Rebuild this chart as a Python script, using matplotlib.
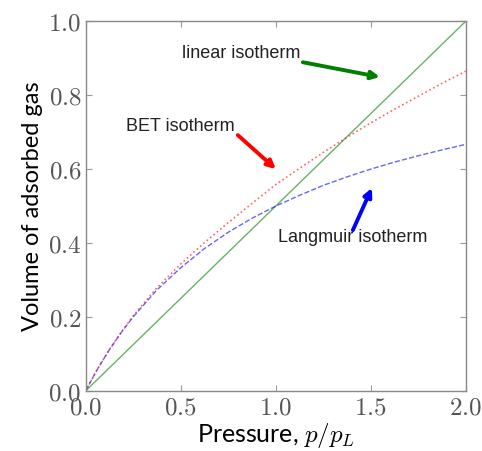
import matplotlib
matplotlib.use("Agg")
import matplotlib.pyplot as plt

# ----------------------------- data -----------------------------
pressure = [0.0, 0.0625, 0.125, 0.1875, 0.25, 0.375, 0.5, 0.625, 0.75, 0.875, 1.0,
            1.125, 1.25, 1.375, 1.5, 1.625, 1.75, 1.875, 2.0]
linear = [0.0, 0.03125, 0.0625, 0.09375, 0.125, 0.1875, 0.25, 0.3125, 0.375, 0.4375, 0.5,
          0.5625, 0.625, 0.6875, 0.75, 0.8125, 0.875, 0.9375, 1.0]
langmuir = [0.0, 0.059, 0.111, 0.158, 0.2, 0.273, 0.333, 0.385, 0.429, 0.467, 0.5,
            0.529, 0.556, 0.579, 0.6, 0.619, 0.636, 0.652, 0.667]
bet = [0.0, 0.059, 0.112, 0.159, 0.203, 0.279, 0.343, 0.401, 0.455, 0.507, 0.558,
       0.602, 0.645, 0.686, 0.725, 0.762, 0.797, 0.832, 0.865]

xticks = [0.0, 0.5, 1.0, 1.5, 2.0]
yticks = [0.0, 0.2, 0.4, 0.6, 0.8, 1.0]

plt.rcParams['mathtext.fontset'] = 'cm'

fig = plt.figure(figsize=(4.82, 4.51), dpi=100)
ax = fig.add_axes([0.1774, 0.133, 0.789, 0.820])

ax.plot(pressure, linear, '-', color='green', lw=1.0, alpha=0.6)
ax.plot(pressure, langmuir, '--', color='blue', lw=1.0, alpha=0.6)
ax.plot(pressure, bet, ':', color='red', lw=1.2, alpha=0.6)

ax.set_xlim(0, 2)
ax.set_ylim(0, 1)
ax.set_xticks(xticks)
ax.set_yticks(yticks)
ax.set_xticklabels([f"${t:.1f}$" for t in xticks])
ax.set_yticklabels([f"${t:.1f}$" for t in yticks])
ax.tick_params(direction='in', top=True, right=True, length=4, width=0.8,
               color='#999999', labelcolor='#555555', labelsize=18, pad=3)
for s in ax.spines.values():
    s.set_color('#888888')
    s.set_linewidth(1.0)

ax.set_xlabel(r"Pressure, $p/p_L$", fontsize=18, family='Lato', labelpad=1)
ax.set_ylabel("Volume of adsorbed gas", fontsize=17, family='Lato', labelpad=4)

# annotations
txt = dict(fontsize=13, family='Liberation Sans', color='#222222',
           ha='center', va='center')
ax.text(0.817, 0.914, "linear isotherm", **txt)
ax.text(0.497, 0.714, "BET isotherm", **txt)
ax.text(1.403, 0.414, "Langmuir isotherm", **txt)

arrows = [((1.548, 0.849), (1.143, 0.889), 'green'),
          ((1.001, 0.600), (0.801, 0.692), 'red'),
          ((1.506, 0.549), (1.406, 0.435), 'blue')]
for head, tail, c in arrows:
    ax.annotate('', xy=head, xytext=tail,
                arrowprops=dict(arrowstyle='-|>', lw=2.8, color=c,
                                mutation_scale=12, shrinkA=0, shrinkB=0))

fig.savefig("out.png", dpi=100)
